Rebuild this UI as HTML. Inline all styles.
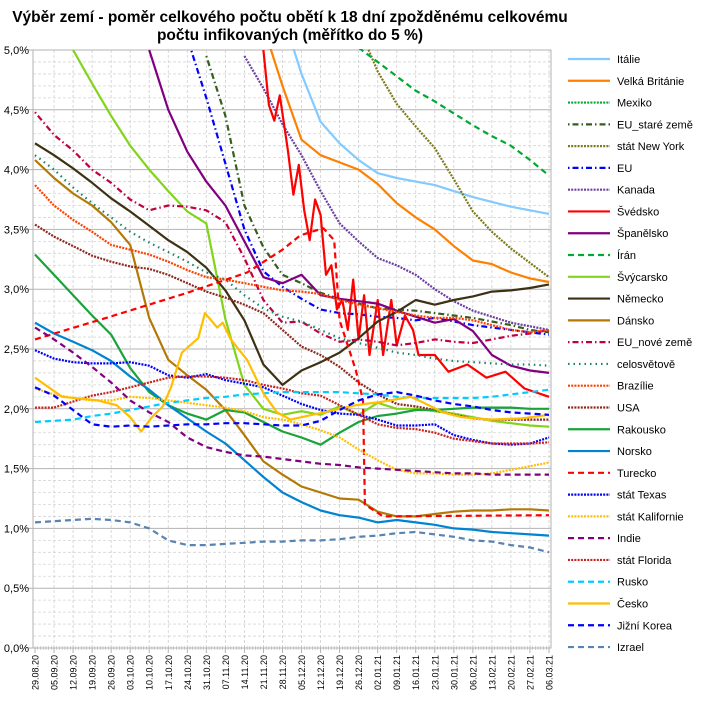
<!DOCTYPE html>
<html><head><meta charset="utf-8">
<style>
html,body{margin:0;padding:0;background:#fff;}
svg{display:block;font-family:"Liberation Sans",sans-serif;}
</style></head>
<body>
<svg id="chart" width="704" height="710" viewBox="0 0 704 710" xmlns="http://www.w3.org/2000/svg">
<rect x="0" y="0" width="704" height="710" fill="#fff"/>
<text x="290" y="22" text-anchor="middle" font-size="15.5" font-weight="bold">Výběr zemí - poměr celkového počtu obětí k 18 dní zpožděnému celkovému</text>
<text x="290" y="40" text-anchor="middle" font-size="15.5" font-weight="bold">počtu infikovaných (měřítko do 5 %)</text>
<defs><clipPath id="plotclip"><rect x="33" y="49" width="518" height="600"/></clipPath></defs>
<g id="grid"></g>
<g id="axes"></g>
<g id="series" clip-path="url(#plotclip)"></g>
<g id="legend"></g>
</svg>
<script>
const xLabels = ["29.08.20","05.09.20","12.09.20","19.09.20","26.09.20","03.10.20","10.10.20","17.10.20","24.10.20","31.10.20","07.11.20","14.11.20","21.11.20","28.11.20","05.12.20","12.12.20","19.12.20","26.12.20","02.01.21","09.01.21","16.01.21","23.01.21","30.01.21","06.02.21","13.02.21","20.02.21","27.02.21","06.03.21"];
const yTicks = [0,0.5,1,1.5,2,2.5,3,3.5,4,4.5,5];
const yTickLabels = ["0,0%","0,5%","1,0%","1,5%","2,0%","2,5%","3,0%","3,5%","4,0%","4,5%","5,0%"];
const weekDays = [0,7,14,21,28,35,42,49,56,63,70,77,84,91,98,105,112,119,126,133,140,147,154,161,168,175,182,189];
const N = null;
const italie   = [N,N,N,N,N,N,N,N,N,N,N,N,N,5.3,4.8,4.4,4.22,4.08,3.97,3.93,3.9,3.87,3.82,3.77,3.73,3.69,3.66,3.63];
const britanie = [N,N,N,N,N,N,N,N,N,N,N,N,5.2,4.7,4.25,4.12,4.06,4.0,3.88,3.72,3.6,3.5,3.36,3.24,3.21,3.14,3.09,3.06];
const mexiko   = [N,N,N,N,N,N,N,N,N,N,N,N,N,N,N,N,N,N,8.6,8.4,8.2,8.0,7.8,7.6,7.4,7.2,7.0,6.9];
const euStare  = [N,N,N,N,N,N,N,N,N,4.95,4.45,3.7,3.35,3.12,3.05,2.97,2.92,2.88,2.84,2.83,2.82,2.8,2.78,2.76,2.73,2.7,2.66,2.64];
const newYork  = [N,N,N,N,N,N,N,N,N,N,N,N,N,N,N,N,N,5.2,4.82,4.55,4.36,4.18,3.92,3.65,3.48,3.34,3.22,3.1];
const eu       = [N,N,N,N,N,N,N,N,5.1,4.6,4.05,3.5,3.15,3.02,2.92,2.83,2.8,2.79,2.77,2.76,2.74,2.76,2.73,2.7,2.68,2.66,2.64,2.62];
const kanada   = [N,N,N,N,N,N,N,N,N,N,N,4.95,4.68,4.38,4.12,3.82,3.55,3.4,3.26,3.2,3.12,3.0,2.9,2.82,2.77,2.72,2.69,2.66];
const spanelsko= [N,N,N,N,N,N,5.0,4.5,4.15,3.9,3.7,3.4,3.1,3.05,3.12,2.95,2.92,2.9,2.88,2.82,2.77,2.72,2.75,2.65,2.45,2.36,2.32,2.3];
const iran     = [N,N,N,N,N,N,N,N,N,N,N,N,N,N,N,N,N,5.02,4.9,4.78,4.66,4.57,4.47,4.37,4.28,4.2,4.08,3.95];
const svycarsko= [N,N,5.0,4.72,4.45,4.2,4.0,3.82,3.65,3.55,2.75,2.2,2.0,1.95,1.98,1.95,2.02,1.95,2.05,2.0,2.0,1.98,1.96,1.93,1.9,1.88,1.86,1.85];
const nemecko  = [4.22,4.12,4.01,3.89,3.76,3.65,3.53,3.41,3.31,3.18,2.99,2.74,2.37,2.2,2.32,2.39,2.47,2.59,2.73,2.81,2.91,2.87,2.91,2.94,2.98,2.99,3.01,3.04];
const dansko   = [4.08,3.93,3.8,3.7,3.56,3.37,2.76,2.41,2.28,2.16,1.99,1.78,1.56,1.45,1.35,1.3,1.25,1.24,1.14,1.1,1.1,1.12,1.14,1.15,1.15,1.16,1.16,1.15];
const euNove   = [4.48,4.29,4.16,4.0,3.89,3.75,3.66,3.7,3.69,3.66,3.56,3.26,2.91,2.72,2.73,2.63,2.56,2.58,2.56,2.53,2.55,2.58,2.56,2.55,2.58,2.61,2.63,2.66];
const svet     = [4.12,4.0,3.85,3.72,3.6,3.48,3.39,3.31,3.23,3.14,3.08,2.95,2.84,2.77,2.73,2.66,2.59,2.55,2.51,2.47,2.45,2.42,2.4,2.39,2.38,2.37,2.37,2.36];
const brazilie = [3.87,3.7,3.58,3.48,3.37,3.33,3.29,3.23,3.16,3.1,3.08,3.05,3.02,2.99,2.98,2.96,2.91,2.87,2.84,2.81,2.78,2.76,2.76,2.74,2.7,2.66,2.64,2.66];
const usa      = [3.54,3.44,3.36,3.28,3.23,3.19,3.17,3.12,3.05,2.98,2.93,2.87,2.8,2.66,2.52,2.45,2.35,2.22,2.12,2.04,2.02,1.99,1.95,1.92,1.91,1.91,1.91,1.91];
const rakousko = [3.29,3.12,2.95,2.78,2.62,2.34,2.14,2.03,1.96,1.91,1.99,1.97,1.89,1.81,1.76,1.7,1.8,1.89,1.94,1.96,1.99,1.99,2.0,2.01,2.01,2.01,2.0,2.0];
const norsko   = [2.72,2.63,2.56,2.49,2.4,2.27,2.16,2.03,1.92,1.81,1.71,1.57,1.43,1.3,1.22,1.15,1.11,1.09,1.05,1.07,1.05,1.03,1.0,0.99,0.97,0.96,0.95,0.94];
const texas    = [2.49,2.42,2.39,2.38,2.38,2.39,2.36,2.28,2.26,2.29,2.24,2.21,2.18,2.11,2.04,1.99,1.96,1.95,1.91,1.86,1.86,1.87,1.78,1.74,1.71,1.7,1.71,1.76];
const kalifornie=[2.17,2.12,2.09,2.07,2.07,2.1,2.09,2.07,2.05,2.03,2.01,1.98,1.93,1.91,1.87,1.82,1.76,1.66,1.57,1.49,1.46,1.46,1.45,1.45,1.46,1.49,1.52,1.55];
const indie    = [2.68,2.58,2.47,2.35,2.22,2.07,1.97,1.89,1.76,1.68,1.64,1.61,1.6,1.58,1.56,1.54,1.53,1.51,1.5,1.49,1.48,1.47,1.46,1.46,1.45,1.45,1.45,1.45];
const florida  = [2.01,2.01,2.06,2.11,2.14,2.18,2.22,2.26,2.27,2.27,2.26,2.24,2.2,2.17,2.13,2.11,2.03,1.95,1.87,1.84,1.83,1.8,1.75,1.73,1.71,1.71,1.71,1.72];
const rusko    = [1.89,1.9,1.91,1.94,1.96,1.99,2.02,2.05,2.07,2.09,2.1,2.12,2.13,2.14,2.14,2.14,2.14,2.13,2.12,2.1,2.09,2.09,2.09,2.09,2.1,2.12,2.14,2.16];
const korea    = [2.18,2.11,1.99,1.87,1.85,1.86,1.85,1.86,1.87,1.87,1.88,1.88,1.87,1.86,1.86,1.9,1.99,2.07,2.12,2.14,2.11,2.07,2.04,2.02,1.99,1.97,1.96,1.95];
const izrael   = [1.05,1.06,1.07,1.08,1.07,1.05,1.0,0.9,0.86,0.86,0.87,0.88,0.89,0.89,0.9,0.9,0.91,0.93,0.94,0.96,0.97,0.95,0.93,0.9,0.89,0.86,0.84,0.8];
const svedskoDays = [84,86,88,90,93,95,97,99,101,103,105,107,109,111,113,115,117,119,121,123,126,128,131,133,136,139,141,147,152,159,166,173,180,189];
const svedsko     = [5.0,4.54,4.41,4.62,4.16,3.79,4.04,3.66,3.41,3.75,3.62,3.12,3.2,2.83,2.91,2.66,3.08,2.58,2.95,2.45,2.91,2.45,2.91,2.53,2.78,2.66,2.45,2.45,2.31,2.37,2.26,2.31,2.17,2.1];
const tureckoDays = [0,27.6,56,78,91,97.5,106,110,112,118,120.6,121.3,128,189];
const turecko     = [2.58,2.77,2.97,3.14,3.33,3.45,3.51,3.41,2.74,2.32,2.07,1.2,1.1,1.11];
const ceskoDays = [0,10,23,30,35,39,43,47,50,54,60,62.5,67,69,72,78,84,89,94,106,118,128,138,143,150,157,167,179,189];
const cesko     = [2.26,2.1,2.07,2.03,1.93,1.81,1.93,2.02,2.18,2.47,2.59,2.8,2.68,2.72,2.58,2.41,2.13,1.97,1.91,1.97,2.03,2.06,2.1,2.05,1.97,1.93,1.91,1.92,1.95];

const X0 = 35, PXDAY = 514/189, Y0 = 648, PXPCT = 119.6;
function xs(d){ return X0 + d*PXDAY; }
function ys(v){ return Y0 - v*PXPCT; }

const DOT="2,1.2", DASH="6,4", DASHDOT="1.5,3,6,3", DOTDASH="1.5,4";
const seriesDefs = [
 {name:"Itálie", key:"italie", v:italie, d:weekDays, c:"#83caff", dash:null},
 {name:"Velká Británie", key:"velka-britanie", v:britanie, d:weekDays, c:"#ff8000", dash:null},
 {name:"Mexiko", key:"mexiko", v:mexiko, d:weekDays, c:"#00a933", dash:DOT},
 {name:"EU_staré země", key:"eu-stare-zeme", v:euStare, d:weekDays, c:"#355e1e", dash:DASHDOT},
 {name:"stát New York", key:"new-york", v:newYork, d:weekDays, c:"#7b7b1c", dash:DOT},
 {name:"EU", key:"eu", v:eu, d:weekDays, c:"#0000ff", dash:DASHDOT},
 {name:"Kanada", key:"kanada", v:kanada, d:weekDays, c:"#6b3fa0", dash:DOT},
 {name:"Švédsko", key:"svedsko", v:svedsko, d:svedskoDays, c:"#ff0000", dash:null},
 {name:"Španělsko", key:"spanelsko", v:spanelsko, d:weekDays, c:"#800080", dash:null},
 {name:"Írán", key:"iran", v:iran, d:weekDays, c:"#00a933", dash:DASH},
 {name:"Švýcarsko", key:"svycarsko", v:svycarsko, d:weekDays, c:"#81d41a", dash:null},
 {name:"Německo", key:"nemecko", v:nemecko, d:weekDays, c:"#3c3112", dash:null},
 {name:"Dánsko", key:"dansko", v:dansko, d:weekDays, c:"#b47804", dash:null},
 {name:"EU_nové země", key:"eu-nove-zeme", v:euNove, d:weekDays, c:"#bf0041", dash:DASHDOT},
 {name:"celosvětově", key:"celosvetove", v:svet, d:weekDays, c:"#158466", dash:DOTDASH},
 {name:"Brazílie", key:"brazilie", v:brazilie, d:weekDays, c:"#ff4000", dash:DOT},
 {name:"USA", key:"usa", v:usa, d:weekDays, c:"#8d281e", dash:DOT},
 {name:"Rakousko", key:"rakousko", v:rakousko, d:weekDays, c:"#1aa33a", dash:null},
 {name:"Norsko", key:"norsko", v:norsko, d:weekDays, c:"#0084d1", dash:null},
 {name:"Turecko", key:"turecko", v:turecko, d:tureckoDays, c:"#ff0000", dash:DASH},
 {name:"stát Texas", key:"texas", v:texas, d:weekDays, c:"#0000ff", dash:DOT},
 {name:"stát Kalifornie", key:"kalifornie", v:kalifornie, d:weekDays, c:"#ffbf00", dash:DOT},
 {name:"Indie", key:"indie", v:indie, d:weekDays, c:"#800080", dash:DASH},
 {name:"stát Florida", key:"florida", v:florida, d:weekDays, c:"#c9211e", dash:DOT},
 {name:"Rusko", key:"rusko", v:rusko, d:weekDays, c:"#00ccff", dash:DASH},
 {name:"Česko", key:"cesko", v:cesko, d:ceskoDays, c:"#ffbf00", dash:null},
 {name:"Jižní Korea", key:"jizni-korea", v:korea, d:weekDays, c:"#0000ff", dash:DASH},
 {name:"Izrael", key:"izrael", v:izrael, d:weekDays, c:"#5983b0", dash:DASH}
];

const NS="http://www.w3.org/2000/svg";
function mk(tag, parent){ const e=document.createElementNS(NS,tag); parent.appendChild(e); return e; }
const grid=document.getElementById("grid"), axes=document.getElementById("axes"), sg=document.getElementById("series"), lg=document.getElementById("legend");

for(let k=0;k<=50;k++){
  if(k%5===0) continue;
  const y=ys(k/10);
  const l=mk("line",grid);
  
  
  l.setAttribute("x1",33);l.setAttribute("x2",551);l.setAttribute("y1",y);l.setAttribute("y2",y);
  l.setAttribute("stroke","#d6d6d6");l.setAttribute("stroke-dasharray","3,2");l.setAttribute("stroke-width","0.8");
}
for(let i=1;i<xLabels.length;i++){
  const x=xs(weekDays[i]);
  const l=mk("line",grid);
  
  
  l.setAttribute("x1",x);l.setAttribute("x2",x);l.setAttribute("y1",50);l.setAttribute("y2",648);
  l.setAttribute("stroke","#cfcfcf");l.setAttribute("stroke-dasharray","3,2");l.setAttribute("stroke-width","0.8");
}
yTicks.forEach((t,i)=>{
  const y=ys(t);
  const l=mk("line",grid);
  
  
  l.setAttribute("x1",28);l.setAttribute("x2",551);l.setAttribute("y1",y);l.setAttribute("y2",y);
  l.setAttribute("stroke","#b3b3b3");l.setAttribute("stroke-width","1");
  const tx=mk("text",axes);
  
  
  tx.setAttribute("x",29);tx.setAttribute("y",y+4);tx.setAttribute("text-anchor","end");tx.setAttribute("font-size","11");
  tx.textContent=yTickLabels[i];
});
const fr=mk("rect",axes);


fr.setAttribute("x",33);fr.setAttribute("y",50);fr.setAttribute("width",518);fr.setAttribute("height",598);
fr.setAttribute("fill","none");fr.setAttribute("stroke","#b3b3b3");
for(let d=0;d<=189;d++){
  const x=xs(d);
  const l=mk("line",axes);
  
  
  l.setAttribute("x1",x);l.setAttribute("x2",x);l.setAttribute("y1",646);l.setAttribute("y2",650);
  l.setAttribute("stroke","#b3b3b3");l.setAttribute("stroke-width","0.6");
}
xLabels.forEach((lab,i)=>{
  const x=xs(weekDays[i]);
  const l=mk("line",axes);
  
  
  l.setAttribute("x1",x);l.setAttribute("x2",x);l.setAttribute("y1",648);l.setAttribute("y2",653);
  l.setAttribute("stroke","#b3b3b3");
  const tx=mk("text",axes);
  
  
  tx.setAttribute("transform","translate("+(x+3.5)+",655) rotate(-90)");
  tx.setAttribute("text-anchor","end");tx.setAttribute("font-size","9");
  tx.textContent=lab;
});
seriesDefs.forEach((s,si)=>{
  let dstr="", pen=false;
  s.v.forEach((v,i)=>{
    if(v===null){pen=false;return;}
    dstr+=(pen?"L":"M")+xs(s.d[i]).toFixed(1)+","+ys(v).toFixed(1);
    pen=true;
  });
  const p=mk("path",sg);
  
  
  p.setAttribute("d",dstr);p.setAttribute("fill","none");p.setAttribute("stroke",s.c);
  p.setAttribute("stroke-width","2.2");p.setAttribute("stroke-linejoin","round");
  if(s.dash) p.setAttribute("stroke-dasharray",s.dash);
  const ly=59+si*21.78;
  const ll=mk("line",lg);
  
  
  ll.setAttribute("x1",568);ll.setAttribute("x2",610);ll.setAttribute("y1",ly);ll.setAttribute("y2",ly);
  ll.setAttribute("stroke",s.c);ll.setAttribute("stroke-width","2.2");
  if(s.dash) ll.setAttribute("stroke-dasharray",s.dash);
  const lt=mk("text",lg);
  
  
  lt.setAttribute("x",617);lt.setAttribute("y",ly+4);lt.setAttribute("font-size","11");
  lt.textContent=s.name;
});
</script>
</body></html>
